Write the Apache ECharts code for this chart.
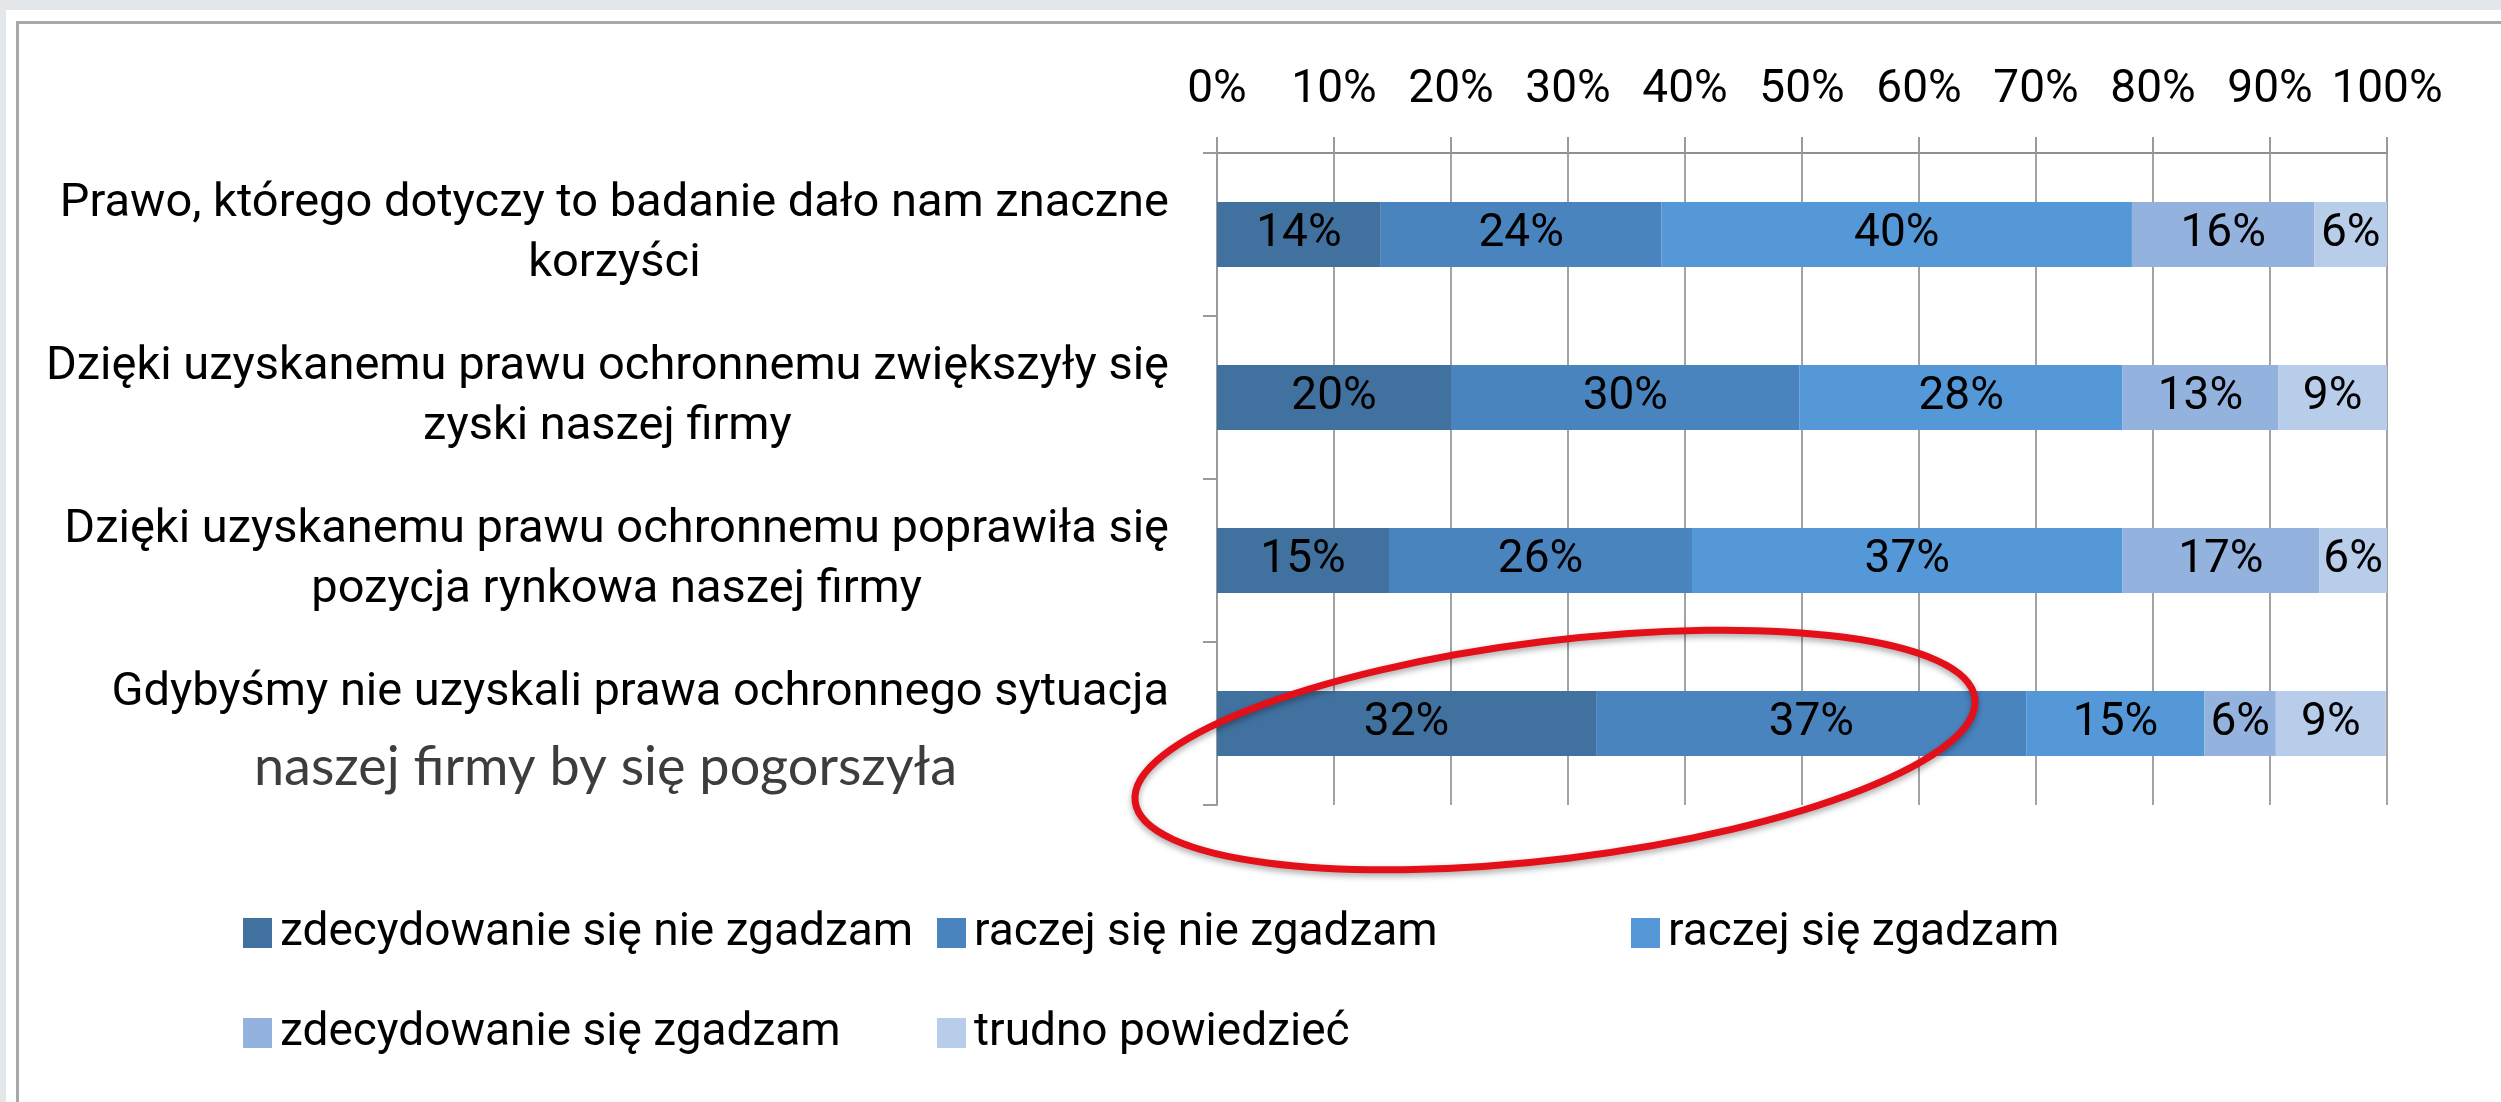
<!DOCTYPE html>
<html>
<head>
<meta charset="utf-8">
<title>Prawo ochronne - ocena</title>
<script src="https://cdn.jsdelivr.net/npm/echarts@6/dist/echarts.min.js"></script>
<style>
html, body { margin: 0; padding: 0; width: 2501px; height: 1102px; overflow: hidden; background: #e4e7ea; }
#sheet { position: absolute; left: 6px; top: 10px; width: 2520px; height: 1120px; background: #fff; }
#frame { position: absolute; left: 16px; top: 21px; width: 2520px; height: 1120px; border-left: 3px solid #a8a8a8; border-top: 3px solid #a8a8a8; }
#map_chart { position: absolute; left: 0; top: 0; width: 2501px; height: 1102px; }
</style>
</head>
<body>
<div id="sheet"></div>
<div id="frame"></div>
<div id="map_chart"></div>
<script>
// kategorie (pytania) - linie rozdzielone \n
var categories = [
	'Prawo, którego dotyczy to badanie dało nam znaczne\nkorzyści',
	'Dzięki uzyskanemu prawu ochronnemu zwiększyły się\nzyski naszej firmy',
	'Dzięki uzyskanemu prawu ochronnemu poprawiła się\npozycja rynkowa naszej firmy',
	'Gdybyśmy nie uzyskali prawa ochronnego sytuacja\nnaszej firmy by się pogorszyła'
];
var seriesNames = [
	'zdecydowanie się nie zgadzam',
	'raczej się nie zgadzam',
	'raczej się zgadzam',
	'zdecydowanie się zgadzam',
	'trudno powiedzieć'
];
var zdecydowanieNie = [14.0, 20.0, 14.7, 32.4];
var raczejNie = [24.0, 29.8, 25.9, 36.8];
var raczejTak = [40.2, 27.6, 36.8, 15.2];
var zdecydowanieTak = [15.6, 13.3, 16.8, 6.1];
var trudno = [6.2, 9.3, 5.8, 9.4];

var colors = ['#41719f', '#4a84bf', '#5598d8', '#93b2dd', '#b8cdea'];
var values = [zdecydowanieNie, raczejNie, raczejTak, zdecydowanieTak, trudno];

var Container = document.getElementById('map_chart');
var myChart = echarts.init(Container);

var font = 'Roboto';
var grey = '#9a9a9a';

var series = seriesNames.map(function(name, i) {
	return {
		name : name,
		type : 'bar',
		stack : 'total',
		barWidth : 65,
		itemStyle : { color : colors[i] },
		label : {
			show : true,
			position : 'inside',
			color : '#000',
			fontSize : 46,
			fontFamily : font,
			textBorderWidth : 0,
			formatter : function(p) { return Math.round(p.value) + '%'; }
		},
		data : values[i]
	};
});

// legenda w dwóch wierszach, jak w Excelu
var legendLeft = [243, 937, 1631, 243, 937];
var legendTop = [910, 910, 910, 1010, 1010];
var legends = seriesNames.map(function(name, i) {
	return {
		data : [ name ],
		left : legendLeft[i],
		top : legendTop[i],
		padding : 0,
		icon : 'rect',
		itemWidth : 29,
		itemHeight : 30,
		selectedMode : false,
		textStyle : { fontSize : 46, fontFamily : font, color : '#000', padding : [0, 0, 0, 3] }
	};
});

var option = {
	animation : false,
	backgroundColor : 'transparent',
	grid : { left : 1217, right : 114, top : 153, bottom : 297 },
	legend : legends,
	xAxis : {
		type : 'value',
		position : 'top',
		min : 0,
		max : 100,
		interval : 10,
		axisLine : { show : true, lineStyle : { color : '#8f8f8f', width : 2 } },
		axisTick : { show : true, length : 16, lineStyle : { color : grey, width : 2 } },
		splitLine : { show : true, lineStyle : { color : '#a3a3a3', width : 2 } },
		axisLabel : { fontSize : 46, fontFamily : font, color : '#000', margin : 40, formatter : '{value}%' }
	},
	yAxis : {
		type : 'category',
		inverse : true,
		data : categories,
		axisLine : { show : true, lineStyle : { color : grey, width : 2 } },
		axisTick : { show : true, length : 14, lineStyle : { color : grey, width : 2 } },
		axisLabel : {
			margin : 48,
			formatter : function(value, idx) {
				var lines = value.split('\n');
				if (idx === 3) {
					return '{h|' + lines[0] + '}\n{p|' + lines[1] + '}';
				}
				return lines.map(function(l) { return '{c|' + l + '}'; }).join('\n');
			},
			rich : {
				c : { align : 'center', fontSize : 47, fontFamily : font, color : '#000', lineHeight : 60 },
				h : { align : 'center', fontSize : 47, fontFamily : font, color : '#000', lineHeight : 89 },
				p : { align : 'right', fontSize : 54, fontFamily : 'Lato', color : '#3d3d3d', lineHeight : 61, padding : [0, 212, 0, 0] }
			}
		}
	},
	// odręczna czerwona elipsa
	graphic : [ {
		type : 'ellipse',
		x : 1555,
		y : 750,
		rotation : 7 * Math.PI / 180,
		shape : { cx : 0, cy : 0, rx : 423, ry : 109 },
		style : { fill : 'transparent', stroke : '#e3101a', lineWidth : 7, shadowBlur : 6, shadowColor : 'rgba(0,0,0,0.35)', shadowOffsetY : 3 },
		z : 100
	} ],
	series : series
};
myChart.setOption(option);
</script>
</body>
</html>
